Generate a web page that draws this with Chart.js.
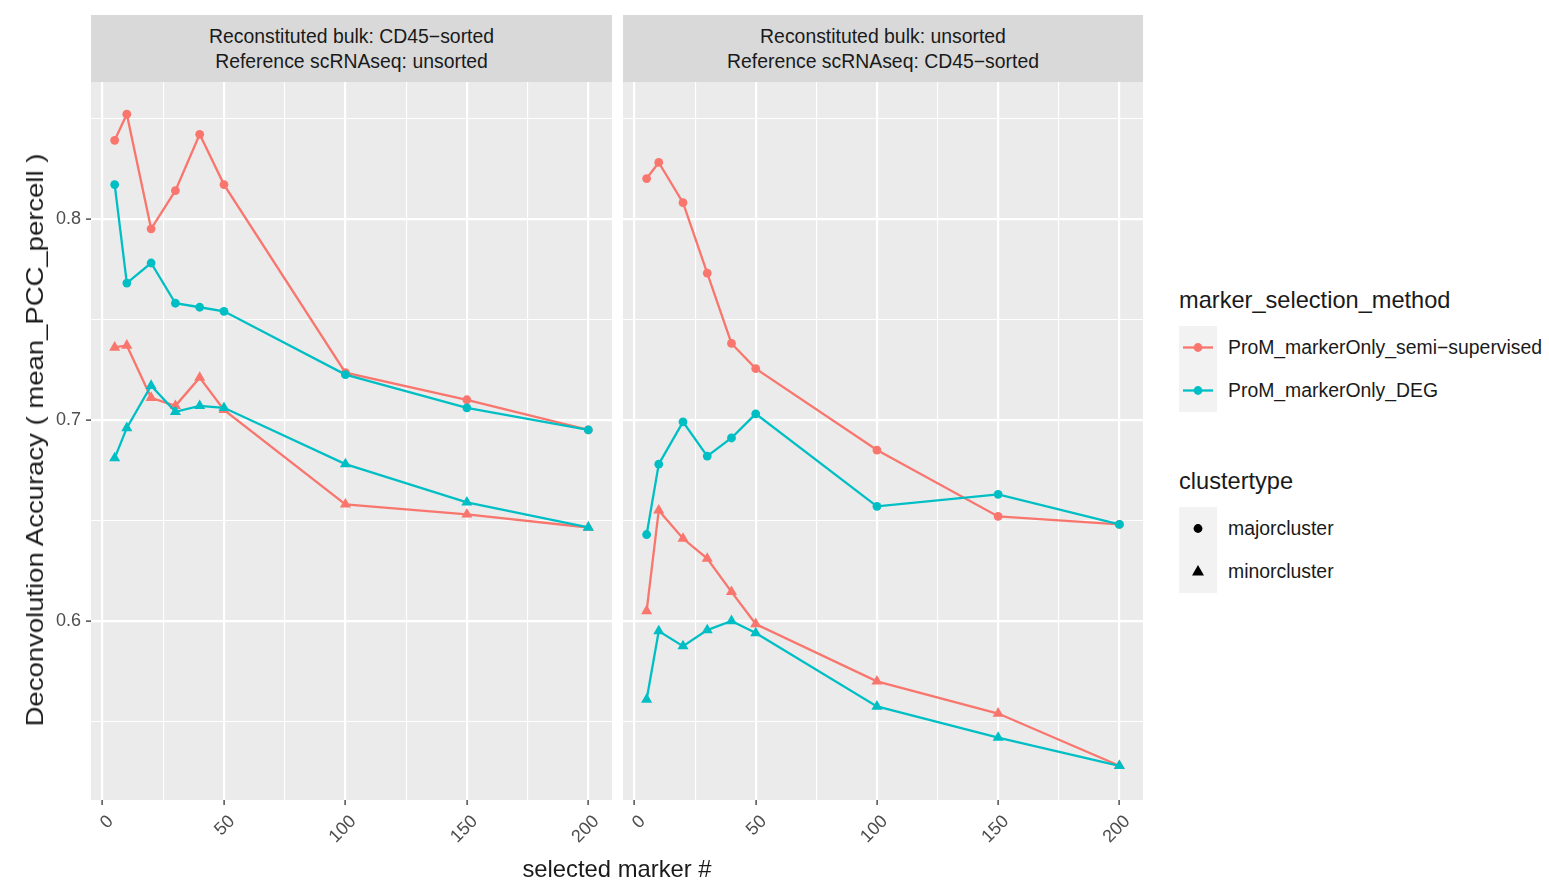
<!DOCTYPE html>
<html>
<head>
<meta charset="utf-8">
<script src="https://cdn.jsdelivr.net/npm/chart.js@4"></script>
<style>
  body { margin: 0; width: 1549px; height: 885px; background: #fff; position: relative; overflow: hidden;
         font-family: "Liberation Sans", Arial, sans-serif; color: #1a1a1a; }
  .strip { position: absolute; top: 15px; height: 67px; background: #d9d9d9; text-align: center;
           font-size: 19.4px; line-height: 25px; padding-top: 8.5px; box-sizing: border-box; color: #1a1a1a; }
  .panel { position: absolute; top: 82px; height: 803px; }
  .ytitle { position: absolute; left: 35px; top: 440px; transform: translate(-50%, -50%) rotate(-90deg) scaleX(1.155);
            font-size: 23.8px; white-space: nowrap; }
  .xtitle { position: absolute; left: 617px; top: 869px; transform: translate(-50%, -50%); font-size: 23.8px; white-space: nowrap; }
  .legend { position: absolute; left: 1179px; }
  .legend .title { font-size: 23.6px; height: 42px; line-height: 32px; white-space: nowrap; }
  .legend .row { display: flex; align-items: center; height: 43px; }
  .legend .key { width: 38px; height: 43px; background: #f2f2f2; }
  .legend .lab { font-size: 19.4px; margin-left: 11px; white-space: nowrap; }
</style>
</head>
<body>
<div class="strip" style="left:91px;width:521px">Reconstituted bulk: CD45&#8722;sorted<br>Reference scRNAseq: unsorted</div>
<div class="strip" style="left:623px;width:520px">Reconstituted bulk: unsorted<br>Reference scRNAseq: CD45&#8722;sorted</div>
<div class="panel" style="left:0;width:612px"><canvas id="left"></canvas></div>
<div class="panel" style="left:623px;width:520px"><canvas id="right"></canvas></div>
<div class="ytitle">Deconvolution Accuracy ( mean_PCC_percell )</div>
<div class="xtitle">selected marker #</div>

<div class="legend" style="top:284px">
  <div class="title">marker_selection_method</div>
  <div class="row"><svg class="key"><line x1="4" y1="21.5" x2="34" y2="21.5" stroke="#F8766D" stroke-width="2.3"/><circle cx="19" cy="21.5" r="4.4" fill="#F8766D"/></svg><span class="lab">ProM_markerOnly_semi&#8722;supervised</span></div>
  <div class="row"><svg class="key"><line x1="4" y1="21.5" x2="34" y2="21.5" stroke="#00BFC4" stroke-width="2.3"/><circle cx="19" cy="21.5" r="4.4" fill="#00BFC4"/></svg><span class="lab">ProM_markerOnly_DEG</span></div>
</div>
<div class="legend" style="top:465px">
  <div class="title">clustertype</div>
  <div class="row"><svg class="key"><circle cx="19" cy="21.5" r="4.4" fill="#000"/></svg><span class="lab">majorcluster</span></div>
  <div class="row"><svg class="key"><polygon points="19,15 25,25.5 13,25.5" fill="#000"/></svg><span class="lab">minorcluster</span></div>
</div>

<script>
const markers = [5, 10, 20, 30, 40, 50, 100, 150, 200];

// left facet: CD45-sorted bulk, unsorted reference
const semiMajorL = [0.839, 0.852, 0.795, 0.814, 0.842, 0.817, 0.7235, 0.710, 0.695];
const degMajorL  = [0.817, 0.768, 0.778, 0.758, 0.756, 0.754, 0.7225, 0.706, 0.695];
const semiMinorL = [0.736, 0.737, 0.711, 0.707, 0.721, 0.705, 0.658, 0.653, 0.6465];
const degMinorL  = [0.681, 0.696, 0.717, 0.704, 0.707, 0.706, 0.678, 0.659, 0.6465];

// right facet: unsorted bulk, CD45-sorted reference
const semiMajorR = [0.820, 0.828, 0.808, 0.773, 0.738, 0.7255, 0.685, 0.652, 0.648];
const degMajorR  = [0.643, 0.678, 0.699, 0.682, 0.691, 0.703, 0.657, 0.663, 0.648];
const semiMinorR = [0.605, 0.655, 0.641, 0.631, 0.6145, 0.5985, 0.570, 0.554, 0.528];
const degMinorR  = [0.561, 0.595, 0.5875, 0.5955, 0.600, 0.594, 0.5575, 0.542, 0.528];

const xTicks = [0, 25, 50, 75, 100, 125, 150, 175, 200];
const yTicks = [0.55, 0.6, 0.65, 0.7, 0.75, 0.8, 0.85];
const xLabels = [0, 50, 100, 150, 200];
const yLabels = [0.6, 0.7, 0.8];

const RED = "#F8766D", TEAL = "#00BFC4";

function pts(ys) {
  return markers.map((m, i) => ({ x: m, y: ys[i] }));
}

function ds(ys, color, style) {
  return {
    data: pts(ys), showLine: true, borderColor: color, backgroundColor: color,
    borderWidth: 2.3, pointStyle: style, pointRadius: style === "triangle" ? 6.4 : 4.4,
    pointBorderWidth: 0, pointHoverRadius: 0,
  };
}

const panelBg = {
  id: "panelBg",
  beforeDraw(chart) {
    const a = chart.chartArea, ctx = chart.ctx;
    ctx.save();
    ctx.fillStyle = "#ebebeb";
    ctx.fillRect(a.left, a.top, a.right - a.left, a.bottom - a.top);
    ctx.restore();
  },
};

// pin the scale box sizes so the plot area lines up with the strips
function noPad(s) {
  s.paddingTop = 0; s.paddingBottom = 0; s.paddingLeft = 0; s.paddingRight = 0;
}

function makeChart(id, sets, showY) {
  const isMajorX = v => xLabels.includes(v);
  const isMajorY = v => yLabels.some(l => Math.abs(l - v) < 1e-9);
  return new Chart(document.getElementById(id), {
    type: "scatter",
    data: { datasets: sets },
    plugins: [panelBg],
    options: {
      responsive: true, maintainAspectRatio: false, animation: false,
      layout: { padding: 0, autoPadding: false },
      plugins: { legend: { display: false }, tooltip: { enabled: false } },
      scales: {
        x: {
          type: "linear", min: -4.75, max: 209.75,
          afterBuildTicks: s => { s.ticks = xTicks.map(v => ({ value: v })); },
          afterFit: s => { s.height = 85; noPad(s); },
          border: { display: false },
          grid: {
            color: "#ffffff", lineWidth: c => isMajorX(c.tick.value) ? 2.2 : 1.1,
            tickLength: 5, tickWidth: 1.3,
            tickColor: c => isMajorX(c.tick.value) ? "#333333" : "rgba(0,0,0,0)",
          },
          ticks: {
            autoSkip: false, minRotation: 45, maxRotation: 45, padding: 6, labelOffset: 8,
            color: "#4d4d4d", font: { family: "Liberation Sans", size: 18 },
            callback: v => xLabels.includes(v) ? String(v) : "",
          },
        },
        y: {
          type: "linear", min: 0.511, max: 0.868,
          afterBuildTicks: s => { s.ticks = yTicks.map(v => ({ value: v })); },
          afterFit: s => { s.width = showY ? 91 : 0; noPad(s); },
          border: { display: false },
          grid: {
            color: "#ffffff", lineWidth: c => isMajorY(c.tick.value) ? 2.2 : 1.1,
            drawTicks: showY, tickLength: 5, tickWidth: 1.3,
            tickColor: c => isMajorY(c.tick.value) ? "#333333" : "rgba(0,0,0,0)",
          },
          ticks: {
            display: showY, padding: 5,
            color: "#4d4d4d", font: { family: "Liberation Sans", size: 18 },
            callback: v => yLabels.some(l => Math.abs(l - v) < 1e-9) ? v.toFixed(1) : "",
          },
        },
      },
    },
  });
}

makeChart("left", [
  ds(degMajorL, TEAL, "circle"), ds(degMinorL, TEAL, "triangle"),
  ds(semiMajorL, RED, "circle"), ds(semiMinorL, RED, "triangle"),
], true);

makeChart("right", [
  ds(degMajorR, TEAL, "circle"), ds(degMinorR, TEAL, "triangle"),
  ds(semiMajorR, RED, "circle"), ds(semiMinorR, RED, "triangle"),
], false);
</script>
</body>
</html>
